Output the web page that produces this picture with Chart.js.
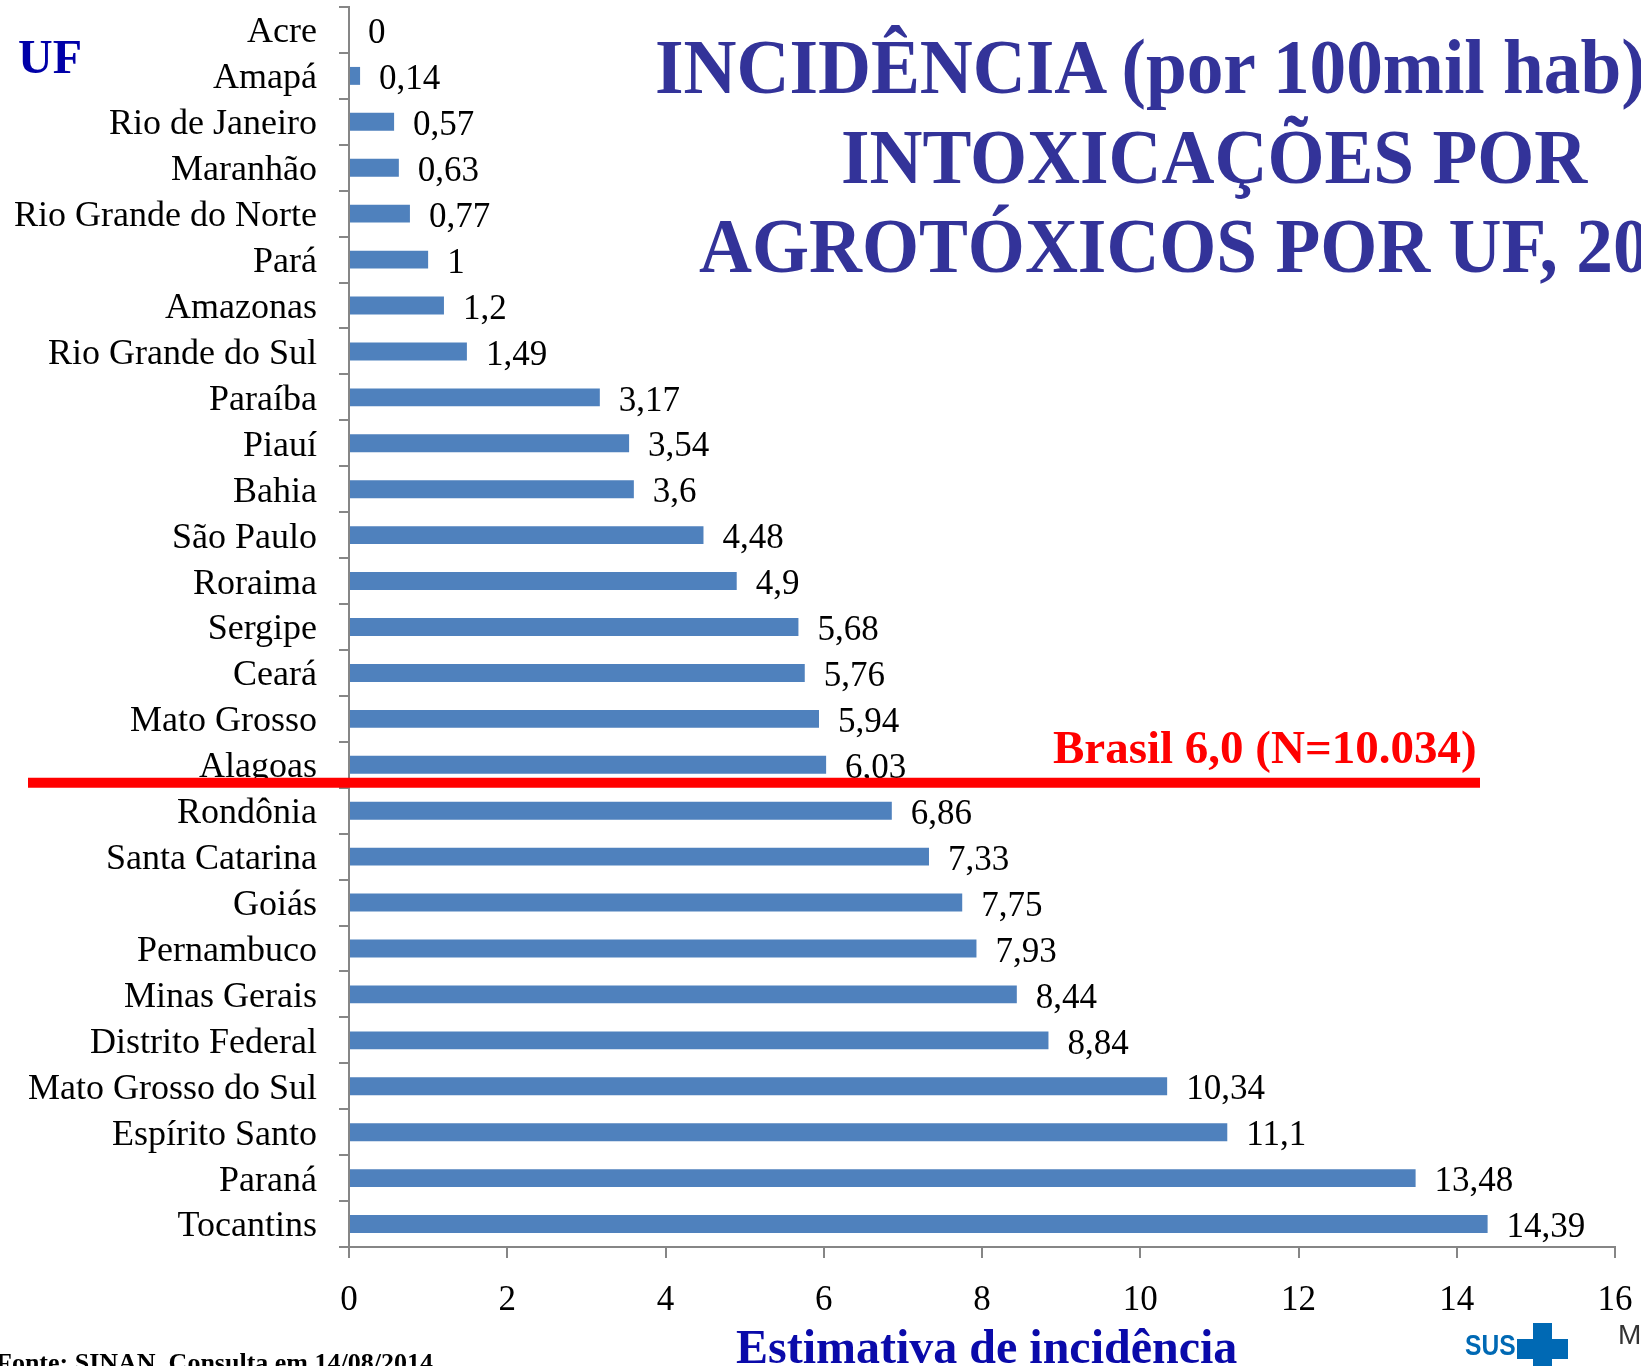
<!DOCTYPE html>
<html lang="pt-BR">
<head>
<meta charset="utf-8">
<title>Incidência de intoxicações por agrotóxicos por UF</title>
<script src="https://cdn.jsdelivr.net/npm/chart.js@4.4.1/dist/chart.umd.min.js"></script>
<style>
    html, body {
        margin: 0;
        padding: 0;
        background: #ffffff;
        overflow: hidden;
    }

    #page {
        position: relative;
        width: 1641px;
        height: 1366px;
        overflow: hidden;
    }

    #chart {
        position: absolute;
        left: 0;
        top: 0;
    }

    .txt {
        position: absolute;
        white-space: nowrap;
        line-height: 1;
        font-family: 'Liberation Serif', 'Times New Roman', serif;
        font-weight: bold;
    }

    .title {
        font-size: 78px;
        color: #333399;
        transform: scaleX(0.94);
        transform-origin: left top;
    }

    .sus-bar {
        position: absolute;
        background: #0069b4;
    }
</style>
</head>
<body>
<div id="page">
    <canvas id="chart" width="1641" height="1366"></canvas>

    <div class="txt" style="left:18px;top:33px;font-size:48px;color:#0000a8;">UF</div>

    <div class="txt title" style="left:655px;top:28px;">INCIDÊNCIA (por 100mil hab)</div>
    <div class="txt title" style="left:841px;top:118px;">INTOXICAÇÕES POR</div>
    <div class="txt title" style="left:699px;top:207px;">AGROTÓXICOS POR UF, 2014</div>

    <div class="txt" id="brasilText" style="left:1053px;top:724px;font-size:47px;color:#ff0000;"></div>

    <div class="txt" style="left:736px;top:1323px;font-size:48px;color:#0a0aaa;">Estimativa de incidência</div>

    <div class="txt" style="left:-4px;top:1350px;font-size:26px;color:#000000;">Fonte: SINAN. Consulta em 14/08/2014</div>

    <!-- logo SUS -->
    <div class="txt" style="left:1465px;top:1330px;font-size:30px;color:#0069b4;font-family:'Liberation Sans', Arial, sans-serif;transform:scaleX(0.82);transform-origin:left top;">SUS</div>
    <div class="sus-bar" style="left:1533px;top:1323px;width:19px;height:50px;"></div>
    <div class="sus-bar" style="left:1517px;top:1339px;width:51px;height:20px;"></div>
    <div class="txt" style="left:1618px;top:1321px;font-size:28px;color:#333333;font-weight:normal;font-family:'Liberation Sans', Arial, sans-serif;">M</div>
</div>

<script>
const ufs = [
    'Acre', 'Amapá', 'Rio de Janeiro', 'Maranhão', 'Rio Grande do Norte', 'Pará',
    'Amazonas', 'Rio Grande do Sul', 'Paraíba', 'Piauí', 'Bahia', 'São Paulo',
    'Roraima', 'Sergipe', 'Ceará', 'Mato Grosso', 'Alagoas', 'Rondônia',
    'Santa Catarina', 'Goiás', 'Pernambuco', 'Minas Gerais', 'Distrito Federal',
    'Mato Grosso do Sul', 'Espírito Santo', 'Paraná', 'Tocantins'
];

const incidencia = [
    0, 0.14, 0.57, 0.63, 0.77, 1,
    1.2, 1.49, 3.17, 3.54, 3.6, 4.48,
    4.9, 5.68, 5.76, 5.94, 6.03, 6.86,
    7.33, 7.75, 7.93, 8.44, 8.84,
    10.34, 11.1, 13.48, 14.39
];

const xMin = 0;
const xMax = 16;
const xStep = 2;

// linha do Brasil fica logo abaixo desta UF
const brasilTaxa = 6.0;
const brasilN = '10.034';
const brasilDepoisDe = 'Alagoas';

const serif = "'Liberation Serif', 'Times New Roman', serif";

function toComma(value) {
    return String(value).replace('.', ',');
}

const valueLabels = {
    id: 'valueLabels',
    afterDatasetsDraw(chart) {
        let ctx = chart.ctx;
        let meta = chart.getDatasetMeta(0);
        ctx.save();
        ctx.font = '35px ' + serif;
        ctx.fillStyle = '#000000';
        ctx.textAlign = 'left';
        ctx.textBaseline = 'middle';
        meta.data.forEach(function (bar, i) {
            ctx.fillText(toComma(incidencia[i]), bar.x + 19, bar.y + 4);
        });
        ctx.restore();
    }
};

const brasilLine = {
    id: 'brasilLine',
    afterDraw(chart) {
        let ctx = chart.ctx;
        let y = chart.scales.y;
        let idx = ufs.indexOf(brasilDepoisDe);
        let lineY = (y.getPixelForValue(idx) + y.getPixelForValue(idx + 1)) / 2 - 5;
        ctx.save();
        ctx.strokeStyle = '#ff0000';
        ctx.lineWidth = 10;
        ctx.beginPath();
        ctx.moveTo(28, lineY);
        ctx.lineTo(1480, lineY);
        ctx.stroke();
        ctx.restore();
    }
};

document.getElementById('brasilText').textContent =
    'Brasil ' + toComma(brasilTaxa.toFixed(1)) + ' (N=' + brasilN + ')';

Chart.defaults.font.family = serif;
Chart.defaults.color = '#000000';

new Chart(document.getElementById('chart'), {
    type: 'bar',
    data: {
        labels: ufs,
        datasets: [{
            data: incidencia,
            backgroundColor: '#4f81bd',
            borderWidth: 0,
            barPercentage: 0.39,
            categoryPercentage: 1
        }]
    },
    options: {
        indexAxis: 'y',
        responsive: false,
        devicePixelRatio: 1,
        animation: false,
        layout: {
            padding: {top: 7, right: 26, left: 0, bottom: 0}
        },
        plugins: {
            legend: {display: false},
            tooltip: {enabled: false},
            title: {display: false}
        },
        scales: {
            x: {
                min: xMin,
                max: xMax,
                ticks: {
                    stepSize: xStep,
                    padding: 22,
                    font: {size: 35}
                },
                grid: {
                    drawOnChartArea: false,
                    tickLength: 11,
                    color: '#868686',
                    lineWidth: 2
                },
                border: {color: '#868686', width: 2},
                afterFit: function (scale) {
                    scale.height = 119;
                    scale.paddingLeft = 0;
                    scale.paddingRight = 0;
                }
            },
            y: {
                ticks: {
                    autoSkip: false,
                    padding: 22,
                    labelOffset: 3,
                    font: {size: 36}
                },
                grid: {
                    drawOnChartArea: false,
                    offset: true,
                    tickLength: 10,
                    color: '#868686',
                    lineWidth: 2
                },
                border: {color: '#868686', width: 2},
                afterFit: function (scale) {
                    scale.width = 349;
                    scale.paddingTop = 0;
                    scale.paddingBottom = 0;
                }
            }
        }
    },
    plugins: [valueLabels, brasilLine]
});
</script>
</body>
</html>
